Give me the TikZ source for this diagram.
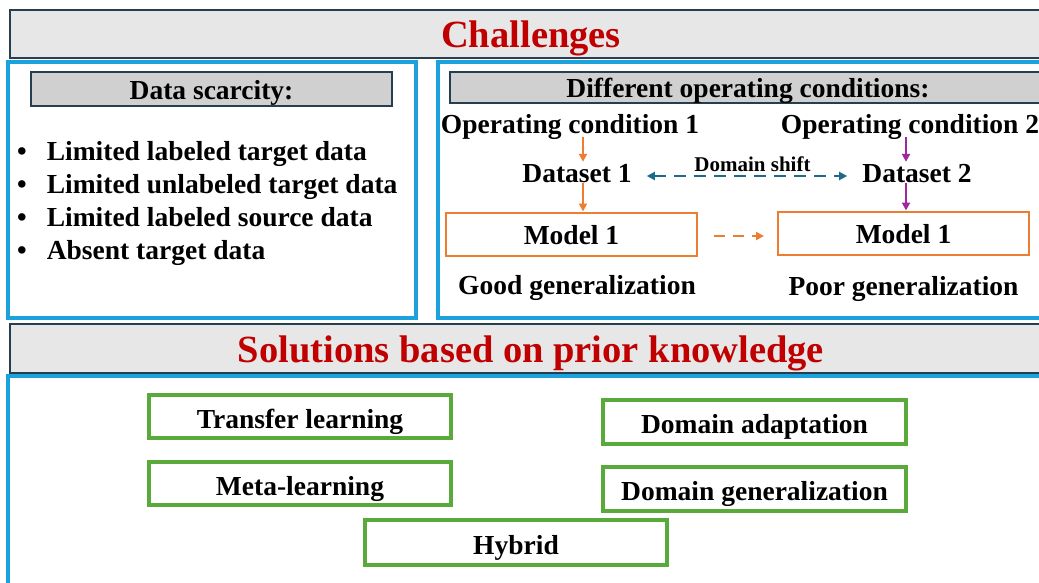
\documentclass[tikz,border=0pt]{standalone}
\usepackage{fontspec}
\setmainfont{Liberation Serif}
\usetikzlibrary{arrows.meta}
\definecolor{cblue}{HTML}{1BA1DB}
\definecolor{cred}{HTML}{C00000}
\definecolor{cgreen}{HTML}{5AAA3B}
\definecolor{corange}{HTML}{ED7D31}
\definecolor{cpurple}{HTML}{A0289C}
\definecolor{cteal}{HTML}{1E6A8A}
\definecolor{cborder}{HTML}{263F50}
\definecolor{hdrfill}{HTML}{E7E7E7}
\definecolor{subfill}{HTML}{D0D0D0}
\begin{document}
\begin{tikzpicture}[x=1pt,y=1pt,
  every node/.style={inner sep=0pt, font=\bfseries\fontsize{27.5}{33}\selectfont},
  lbl/.style={text height=18pt, text depth=0pt},
  hdr/.style={draw=cborder, line width=1.5pt, fill=hdrfill, text=cred,
    font=\bfseries\fontsize{38.5}{44}\selectfont, text height=27.4pt, text depth=0pt},
  subhdr/.style={draw=cborder, line width=1.5pt, fill=subfill, text height=20pt, text depth=0pt},
  panel/.style={draw=cblue, line width=4pt},
  mbox/.style={draw=corange, line width=2pt, minimum width=251pt, minimum height=43pt,
    text height=21.5pt, text depth=0pt},
  gbox/.style={draw=cgreen, line width=3.5pt, minimum width=302pt, minimum height=43pt,
    text height=23.4pt, text depth=0pt},
  small/.style={font=\bfseries\fontsize{21}{24}\selectfont},
  tip/.style={-{Triangle[length=8pt,width=8pt]}},
  oarrow/.style={tip, draw=corange, line width=2.5pt},
  parrow/.style={tip, draw=cpurple, line width=2.5pt},
]
\path[use as bounding box] (0,0) rectangle (1039,-582);
\clip (0,0) rectangle (1039,-582);

% panels
\node[panel, minimum width=408pt, minimum height=256pt] (lp) at (212,-190) {};
\node[panel, minimum width=612pt, minimum height=256pt] (rp) at (744,-190) {};
\node[panel, minimum width=1044pt, minimum height=230pt] (bp) at (530,-491) {};

% headers
\node[hdr, minimum width=1042pt, minimum height=48pt] (ch) at (531,-34) {Challenges};
\node[hdr, minimum width=1042pt, minimum height=49pt] (sol) at (531,-348.5) {Solutions based on prior knowledge};

% left panel
\node[subhdr, minimum width=361pt, minimum height=34pt] (ds) at (211.5,-89) {Data scarcity:};
\node[anchor=base west] (b1) at (17,-160) {\textbullet\hspace{20pt}Limited labeled target data};
\node[anchor=base west] (b2) at (17,-193) {\textbullet\hspace{20pt}Limited unlabeled target data};
\node[anchor=base west] (b3) at (17,-226) {\textbullet\hspace{20pt}Limited labeled source data};
\node[anchor=base west] (b4) at (17,-259) {\textbullet\hspace{20pt}Absent target data};

% right panel
\node[subhdr, minimum width=596pt, minimum height=31pt] (doc) at (748,-87.5) {Different operating conditions:};
\node[lbl] (oc1) at (570,-124) {Operating condition 1};
\node[lbl] (oc2) at (910,-124) {Operating condition 2};
\node[lbl] (ds1) at (577,-173) {Dataset 1};
\node[lbl] (ds2) at (917,-173) {Dataset 2};
\node[mbox] (m1) at (571.5,-234) {Model 1};
\node[mbox] (m2) at (903.5,-233) {Model 1};
\node[lbl] (gg) at (577,-285) {Good generalization};
\node[lbl] (pg) at (903.5,-286) {Poor generalization};

\coordinate (ax) at (583,0);
\coordinate (px) at (906,0);
\draw[oarrow] ([yshift=-4pt]oc1.south -| ax) -- ([yshift=2pt]ds1.north -| ax);
\draw[oarrow] ([yshift=-1pt]ds1.south -| ax) -- (m1.north -| ax);
\draw[parrow] ([yshift=-4pt]oc2.south -| px) -- ([yshift=2pt]ds2.north -| px);
\draw[parrow] ([yshift=-1pt]ds2.south -| px) -- (m2.north -| px);

\coordinate (lx) at (752.5,-171);
\draw[draw=cteal, line width=2.6pt, dash pattern=on 12pt off 8pt,
  {Triangle[length=8pt,width=8pt]}-{Triangle[length=8pt,width=8pt]}]
  ([xshift=15pt,yshift=-3pt]ds1.east) -- ([xshift=-15pt,yshift=-3pt]ds1.east -| ds2.west);
\node[small, anchor=base] (dsh) at (lx) {Domain shift};
\draw[draw=corange, line width=2.5pt, dash pattern=on 11pt off 8pt, -{Triangle[length=8pt,width=8pt]}]
  ([xshift=16pt,yshift=-2pt]m1.east) -- ([xshift=-13pt,yshift=-2pt]m1.east -| m2.west);

% solutions
\node[gbox] (tl) at (300,-416.5) {Transfer learning};
\node[gbox] (ml) at (300,-483.5) {Meta-learning};
\node[gbox, minimum width=303pt, minimum height=44pt] (da) at (754.5,-422) {Domain adaptation};
\node[gbox, minimum width=303pt, minimum height=44pt] (dg) at (754.5,-489) {Domain generalization};
\node[gbox, minimum height=45pt] (hy) at (516,-542.5) {Hybrid};
\end{tikzpicture}
\end{document}
